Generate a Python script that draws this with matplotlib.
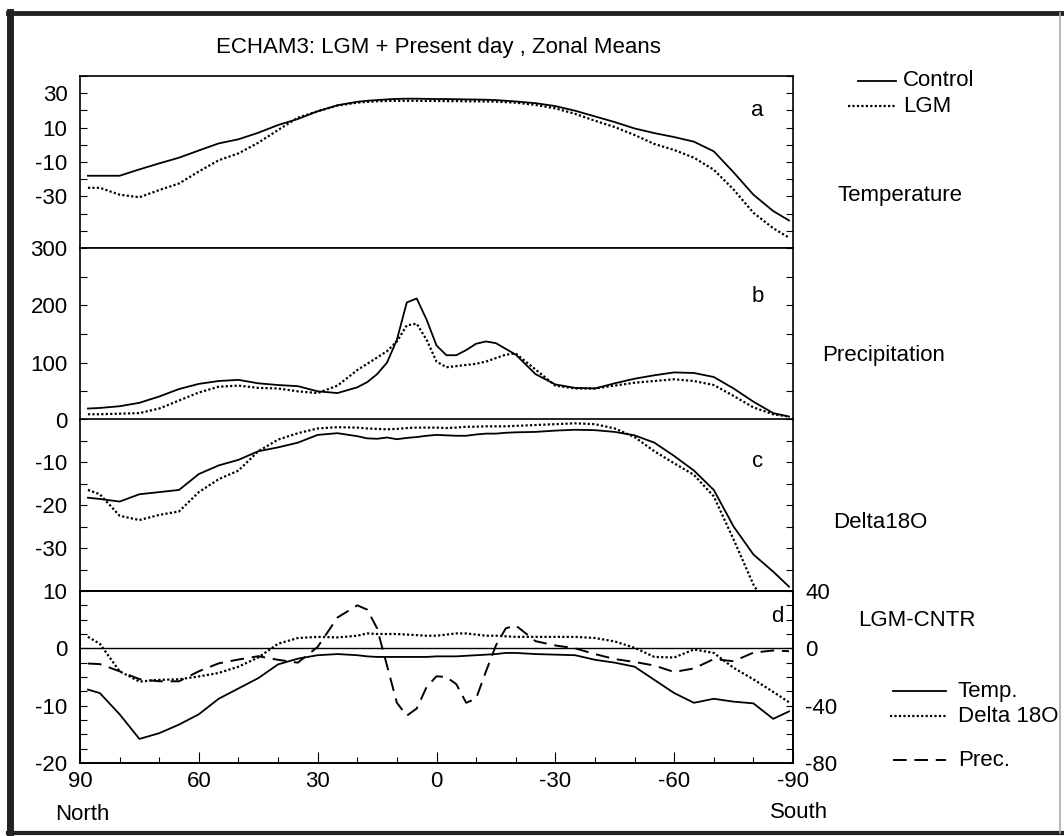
import numpy as np
import matplotlib
matplotlib.use("Agg")
import matplotlib.pyplot as plt
from matplotlib.lines import Line2D

plt.rcParams['font.family'] = ['Liberation Sans', 'DejaVu Sans']
FS = 16

# latitudes (north -> south)
lat = [88, 85, 80, 75, 70, 65, 60, 55, 50, 45, 40, 35, 30, 25, 20, 17.5, 15, 12.5,
       10, 7.5, 5, 2.5, 0, -2.5, -5, -7.5, -10, -12.5, -15, -17.5, -20, -25, -30,
       -35, -40, -45, -50, -55, -60, -65, -70, -75, -80, -85, -89]

# a: temperature
temp_ctrl = [-18, -18, -18, -14.3, -10.8, -7.5, -3.3, 0.8, 3.2, 7, 11.5, 15, 19.5, 23,
             25, 25.6, 26, 26.4, 26.7, 26.8, 26.8, 26.7, 26.6, 26.6, 26.5, 26.4, 26.3,
             26.2, 26, 25.6, 25.2, 24.2, 22.5, 19.8, 16.5, 13.2, 9.5, 6.8, 4.5, 1.8,
             -3.8, -16, -29, -38.5, -44]
temp_lgm = [-25, -25, -29, -30.5, -26.3, -22.5, -15.5, -9, -5, 1.2, 8.6, 15.8, 19.5,
            22.8, 24.5, 25, 25.3, 25.5, 25.6, 25.6, 25.6, 25.5, 25.5, 25.4, 25.4, 25.3,
            25.3, 25.2, 25.1, 24.8, 24.5, 23.2, 21.2, 18, 14, 10.3, 5.7, 0.5, -3, -7.5,
            -14.5, -26, -39.5, -48.5, -54]

# b: precipitation
prec_ctrl = [20, 21, 24, 30, 41, 54, 63, 68, 70, 64, 61, 59, 50, 47, 57, 66, 80, 100,
             140, 205, 212, 175, 130, 113, 113, 122, 133, 137, 134, 124, 114, 80, 62,
             56, 55, 64, 72, 78, 83, 82, 75, 55, 32, 12, 6]
prec_lgm = [10, 10, 11, 12, 20, 34, 48, 58, 60, 56, 55, 50, 47, 60, 87, 98, 109, 120,
            137, 165, 168, 140, 102, 92, 94, 96, 98, 102, 108, 114, 116, 88, 60, 55,
            55, 60, 65, 68, 71, 68, 61, 42, 22, 10, 6]

# c: delta 18O
d18o_ctrl = [-18.3, -18.6, -19.2, -17.5, -17, -16.5, -12.8, -10.8, -9.5, -7.5, -6.6,
             -5.5, -3.7, -3.3, -4, -4.5, -4.6, -4.3, -4.7, -4.4, -4.2, -3.9, -3.7, -3.8,
             -3.9, -3.9, -3.6, -3.4, -3.4, -3.2, -3.1, -3, -2.7, -2.5, -2.6, -3, -3.8,
             -5.5, -8.6, -12, -16.5, -25, -31.5, -35.5, -39]
d18o_lgm = [-16.5, -17.5, -22.5, -23.5, -22.3, -21.5, -17, -14, -12, -7.5, -4.8, -3.3,
            -2.2, -1.9, -2, -2.2, -2.3, -2.4, -2.3, -2.1, -2, -2, -2, -2.1, -2, -1.8,
            -1.8, -1.7, -1.7, -1.7, -1.6, -1.4, -1.2, -1, -1.2, -2.2, -4.2, -7.5,
            -10.3, -13, -18, -28, -38.5, -46, -52]

# d: LGM - control differences
diff_temp = [-7.2, -7.8, -11.5, -15.8, -14.8, -13.3, -11.5, -8.8, -7, -5.2, -2.8, -1.8,
             -1.2, -1, -1.2, -1.4, -1.5, -1.5, -1.5, -1.5, -1.5, -1.5, -1.4, -1.4,
             -1.4, -1.3, -1.2, -1.1, -1, -0.8, -0.8, -1, -1.1, -1.2, -2, -2.5, -3.2,
             -5.5, -7.8, -9.5, -8.8, -9.3, -9.6, -12.3, -11]
diff_d18o = [2, 0.8, -4, -5.8, -5.5, -5.4, -4.9, -4.3, -3.2, -1.6, 0.8, 1.8, 2, 1.9,
             2.2, 2.6, 2.5, 2.5, 2.5, 2.4, 2.3, 2.2, 2.2, 2.4, 2.6, 2.6, 2.4, 2.2, 2.2,
             2.1, 2, 2, 2, 2, 1.8, 1.2, 0.1, -1.5, -1.6, -0.2, -0.8, -3.4, -5.4, -7.6,
             -9.4]
diff_prec = [-10.6, -11, -16, -21.5, -23, -23, -16, -10.5, -7.8, -5.5, -8, -10, 1, 21.5,
             30, 27, 14, -12, -38, -47, -42, -27, -19.5, -20, -25, -38, -35, -16, 2,
             14, 16, 5, 2, 0, -4, -7.5, -9.5, -12, -16.5, -14, -7.5, -9, -3, -1.5, -2]

xticks = [90, 60, 30, 0, -30, -60, -90]

solid = dict(color='black', lw=1.3, ls='-')
dotted = dict(color='black', lw=1.6, ls=(0, (1, 1)))
dashed = dict(color='black', lw=1.4, ls=(0, (7, 4)))

fig = plt.figure(figsize=(10.64, 8.36), dpi=100)

L, W = 80 / 1064, 713 / 1064
H = 172 / 836
bottoms = [1 - 248 / 836, 1 - 420 / 836, 1 - 591 / 836, 1 - 763 / 836]


def make_axes(i, ylim, yticks, labels):
    ax = fig.add_axes([L, bottoms[i], W, H])
    ax.set_xlim(90, -90)
    ax.set_ylim(*ylim)
    ax.set_yticks(yticks)
    ax.set_yticklabels([f'{t:g}' if t in labels else '' for t in yticks])
    ax.tick_params(axis='y', direction='in', length=5, width=0.8, right=True,
                   labelsize=FS, pad=9)
    ax.set_xticks([])
    for s in ax.spines.values():
        s.set_linewidth(1.2)
    return ax


ax_a = make_axes(0, (-60, 40), list(range(-60, 41, 10)), [30, 10, -10, -30])
ax_a.plot(lat, temp_ctrl, **solid)
ax_a.plot(lat, temp_lgm, **dotted)
ax_a.text(-81, 20, 'a', fontsize=FS, ha='center', va='center')

ax_b = make_axes(1, (0, 300), list(range(0, 301, 50)), [300, 200, 100, 0])
ax_b.plot(lat, prec_ctrl, **solid)
ax_b.plot(lat, prec_lgm, **dotted)
ax_b.text(-81, 215, 'b', fontsize=FS, ha='center', va='center')

ax_c = make_axes(2, (-40, 0), list(range(-40, 1, 5)), [-10, -20, -30])
ax_c.plot(lat, d18o_ctrl, **solid)
ax_c.plot(lat, d18o_lgm, **dotted)
ax_c.text(-81, -9.8, 'c', fontsize=FS, ha='center', va='center')

ax_d = make_axes(3, (-20, 10), list(np.arange(-20, 10.1, 2.5)), [10, 0, -10, -20])
ax_d.tick_params(axis='y', right=False)
ax_d.axhline(0, color='black', lw=1.0)
ax_d.plot(lat, diff_temp, **solid)
ax_d.plot(lat, diff_d18o, **dotted)
ax_d.set_xticks(xticks)
ax_d.set_xticklabels([str(t) for t in xticks])
ax_d.set_xticks(list(range(90, -91, -10)), minor=True)
ax_d.tick_params(axis='x', which='major', direction='in', length=8, width=0.8,
                 labelsize=FS, pad=6)
ax_d.tick_params(axis='x', which='minor', direction='in', length=4, width=0.8)
ax_d.text(-86, 5.5, 'd', fontsize=FS, ha='center', va='center')

ax_r = ax_d.twinx()
ax_r.set_ylim(-80, 40)
ax_r.set_yticks(list(range(-80, 41, 10)))
ax_r.set_yticklabels([str(t) if t in (40, 0, -40, -80) else ''
                      for t in range(-80, 41, 10)])
ax_r.tick_params(axis='y', direction='in', length=5, width=0.8, labelsize=FS, pad=9)
ax_r.plot(lat, diff_prec, **dashed)
for s in ax_r.spines.values():
    s.set_linewidth(1.2)

# titles and side labels
fig.text(438 / 1064, 1 - 48 / 836, 'ECHAM3: LGM + Present day , Zonal Means',
         fontsize=FS, ha='center', va='center')
side = [('Temperature', 838, 195), ('Precipitation', 822, 355),
        ('Delta18O', 833, 523), ('LGM-CNTR', 858, 620)]
for s, x, y in side:
    fig.text(x / 1064, 1 - y / 836, s, fontsize=FS, ha='left', va='center')
fig.text(55 / 1064, 1 - 815 / 836, 'North', fontsize=FS, ha='left', va='center')
fig.text(770 / 1064, 1 - 812 / 836, 'South', fontsize=FS, ha='left', va='center')

# legends drawn as figure lines
def legend_item(x0, x1, xt, y, style, label):
    fig.add_artist(Line2D([x0 / 1064, x1 / 1064], [1 - y / 836, 1 - y / 836],
                          transform=fig.transFigure, **style))
    fig.text(xt / 1064, 1 - y / 836, label, fontsize=FS, ha='left', va='center')


legend_item(858, 896, 903, 81, solid, 'Control')
legend_item(848, 896, 903, 106, dotted, 'LGM')
legend_item(893, 946, 958, 691, solid, 'Temp.')
legend_item(890, 946, 958, 716, dotted, 'Delta 18O')
legend_item(893, 946, 958, 760, dashed, 'Prec.')

# outer frame of the scanned figure
fig.add_artist(Line2D([10 / 1064, 10 / 1064], [1 - 12 / 836, 1 - 834 / 836],
                      transform=fig.transFigure, color='#222222', lw=5))
fig.add_artist(Line2D([8 / 1064, 1062 / 1064], [1 - 13 / 836, 1 - 13 / 836],
                      transform=fig.transFigure, color='#222222', lw=3.5))
fig.add_artist(Line2D([8 / 1064, 1062 / 1064], [1 - 833 / 836, 1 - 833 / 836],
                      transform=fig.transFigure, color='#222222', lw=3))
fig.add_artist(Line2D([1060 / 1064, 1060 / 1064], [1 - 13 / 836, 1 - 833 / 836],
                      transform=fig.transFigure, color='#aaaaaa', lw=1.2))

fig.savefig('out.png', dpi=100)
